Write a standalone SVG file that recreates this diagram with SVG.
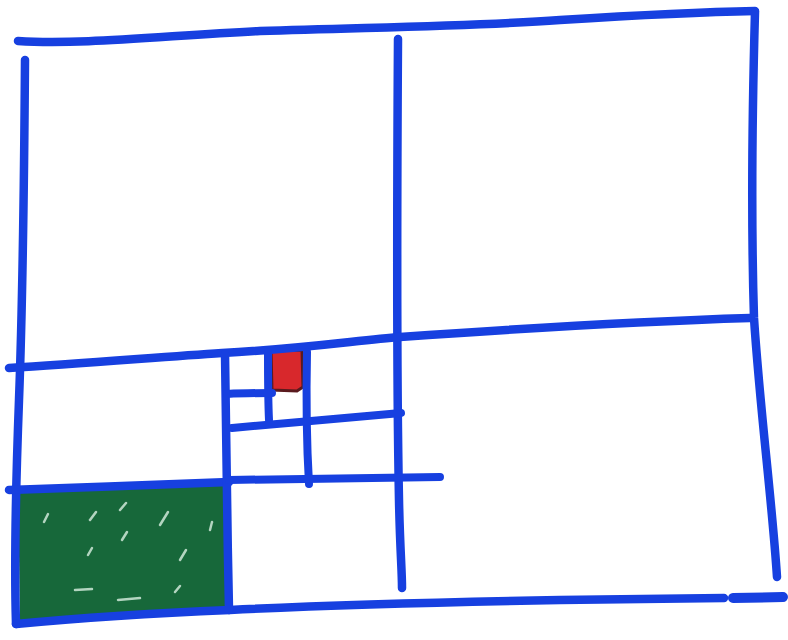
<svg xmlns="http://www.w3.org/2000/svg" width="788" height="640" viewBox="0 0 788 640">
<style>
.ln{fill:none;stroke:#1740e0;stroke-width:8.5;stroke-linecap:round;stroke-linejoin:round}
.thin{stroke-width:8}
</style>
<rect width="788" height="640" fill="#ffffff"/>
<g id="green-cell">
<path d="M18,489 L228,482 L229,610 L20,622 Z" fill="#17683a"/>
<g stroke="#cfe8d8" stroke-width="2.5" stroke-linecap="round" opacity="0.85">
<path d="M90,520 L96,512"/><path d="M120,510 L126,503"/><path d="M160,525 L168,512"/>
<path d="M122,540 L127,532"/><path d="M88,555 L92,548"/><path d="M180,560 L186,550"/>
<path d="M75,590 L92,589"/><path d="M118,600 L140,598"/><path d="M175,592 L180,586"/>
<path d="M44,522 L48,514"/><path d="M210,530 L212,522"/>
</g>
</g>
<g id="red-cell">
<path d="M271,351 L302,350 L303,387 L297,391 L272,390 Z" fill="#d8282c" stroke="#5a1a1e" stroke-width="3"/>
</g>
<g id="grid">
<path class="ln" d="M18,41 C80,45 160,36 260,31 C380,27 480,26 560,20 C640,15 700,12 755,11"/>
<path class="ln" d="M25,60 C24,200 22,320 19,400 C16,480 14,560 16,624"/>
<path class="ln" d="M755,12 C752,120 751,220 754,318 C760,410 772,500 777,577"/>
<path class="ln" d="M16,624 C80,618 160,613 230,610 C330,605 450,602 560,600 C640,599 690,598 724,598"/>
<path class="ln" style="stroke-width:10" d="M733,598 L783,597"/>
<path class="ln" d="M398,39 C397,200 397,400 399,500 C400,550 402,570 402,588"/>
<path class="ln" d="M9,368 C80,364 160,357 222,353 C300,349 360,340 400,337 C500,330 620,322 750,318"/>
<path class="ln" d="M9,490 C80,488 160,484 229,482"/>
<path class="ln" d="M225,354 C226,420 227,520 229,610"/>
<path class="ln thin" d="M268,352 C268,380 268,400 269,420"/>
<path class="ln thin" d="M227,394 C245,393 260,393 272,393"/>
<path class="ln thin" d="M307,352 C306,400 307,450 309,484"/>
<path class="ln thin" d="M232,428 C290,423 340,418 401,413"/>
<path class="ln thin" d="M229,480 C300,479 370,478 440,477"/>
</g>
</svg>
